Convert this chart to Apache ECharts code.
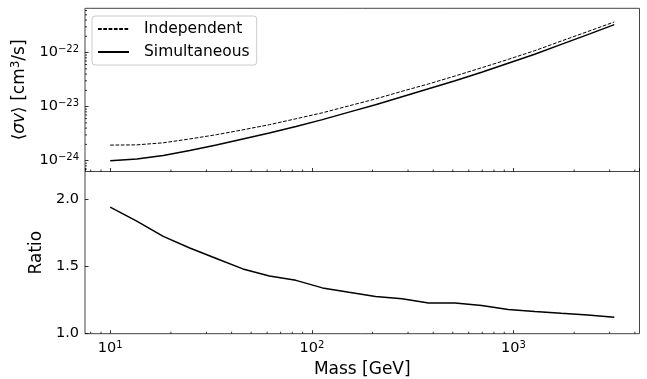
<!DOCTYPE html>
<html>
<head>
<meta charset="utf-8">
<script src="https://cdn.jsdelivr.net/npm/echarts@6/dist/echarts.min.js"></script>
<style>
  html, body { margin: 0; padding: 0; background: #fff; }
  #chart { width: 647px; height: 379px; }
</style>
</head>
<body>
<div id="chart"></div>
<script>
// Dark-matter mass grid (GeV), log-spaced from 10 to ~3162
const mass = [10, 13.54, 18.33, 24.81, 33.60, 45.49, 61.58, 83.38, 112.88, 152.83,
              206.91, 280.13, 379.27, 513.48, 695.19, 941.21, 1274.3, 1725.3, 2335.7, 3162.3];

// Upper limits on <sigma v> (cm^3/s)
const simultaneous = [1.00e-24, 1.07e-24, 1.24e-24, 1.54e-24, 1.94e-24, 2.51e-24, 3.24e-24, 4.27e-24,
                      5.74e-24, 7.91e-24, 1.087e-23, 1.527e-23, 2.14e-23, 3.01e-23, 4.33e-23,
                      6.34e-23, 9.30e-23, 1.42e-22, 2.15e-22, 3.29e-22];
const independent  = [1.94e-24, 1.96e-24, 2.14e-24, 2.52e-24, 3.02e-24, 3.72e-24, 4.63e-24, 5.96e-24,
                      7.69e-24, 1.034e-23, 1.387e-23, 1.924e-23, 2.63e-23, 3.69e-23, 5.24e-23,
                      7.48e-23, 1.083e-22, 1.634e-22, 2.45e-22, 3.69e-22];

// Independent / Simultaneous
const ratio = [1.940, 1.835, 1.722, 1.636, 1.558, 1.481, 1.429, 1.396, 1.340, 1.307,
               1.276, 1.260, 1.228, 1.227, 1.210, 1.180, 1.165, 1.151, 1.138, 1.122];

// Tick values
const ratioTicks = [1.0, 1.5, 2.0];
const massMinorTicks = [8, 9, 20, 30, 40, 50, 60, 70, 80, 90, 200, 300, 400, 500, 600, 700, 800, 900,
                        2000, 3000, 4000];
const sigmaMinorTicks = [7e-25, 8e-25, 9e-25,
                         2e-24, 3e-24, 4e-24, 5e-24, 6e-24, 7e-24, 8e-24, 9e-24,
                         2e-23, 3e-23, 4e-23, 5e-23, 6e-23, 7e-23, 8e-23, 9e-23,
                         2e-22, 3e-22, 4e-22, 5e-22, 6e-22];

const FONT = 'DejaVu Sans';
const FRAME = '#444';

const chart = echarts.init(document.getElementById('chart'), null, { renderer: 'canvas' });

function powLabel(v) {
  const e = Math.round(Math.log10(v));
  return '10{s|' + String(e).replace('-', '\u2212') + '}';
}

const supRich = {
  s: { fontSize: 10, fontFamily: FONT, color: '#000', verticalAlign: 'top', lineHeight: 10 }
};

// Short inward minor ticks along the bottom edge of a grid
function minorXTick(params, api) {
  const cs = params.coordSys;
  const x = api.coord([api.value(0), api.value(1)])[0];
  const yb = cs.y + cs.height;
  return { type: 'line', shape: { x1: x, y1: yb, x2: x, y2: yb - 2 },
           style: { stroke: '#000', lineWidth: 0.8 } };
}
// Short inward minor ticks along the left edge of a grid
function minorYTick(params, api) {
  const cs = params.coordSys;
  const y = api.coord([api.value(0), api.value(1)])[1];
  return { type: 'line', shape: { x1: cs.x, y1: y, x2: cs.x + 2, y2: y },
           style: { stroke: '#000', lineWidth: 0.8 } };
}

const xBase = {
  type: 'log', logBase: 10, min: 7.499, max: 4217,
  axisLine: { show: false },
  splitLine: { show: false },
  minorTick: { show: false },
  axisTick: { show: true, inside: true, length: 3.5, lineStyle: { color: '#000', width: 0.8 } }
};

const option = {
  animation: false,
  backgroundColor: '#fff',
  grid: [
    { left: 85, top: 8.3, width: 554.5, height: 163.2, show: true,
      borderColor: FRAME, borderWidth: 1, backgroundColor: 'transparent' },
    { left: 85, top: 171.5, width: 554.5, height: 162.2, show: true,
      borderColor: FRAME, borderWidth: 1, backgroundColor: 'transparent' }
  ],
  legend: {
    data: ['Independent', 'Simultaneous'],
    orient: 'vertical',
    left: 92, top: 16,
    padding: [5, 7, 5, 5],
    itemWidth: 31, itemHeight: 16, itemGap: 7,
    backgroundColor: 'rgba(255,255,255,0.8)',
    borderColor: '#cccccc', borderWidth: 1, borderRadius: 3,
    itemStyle: { color: 'transparent', borderWidth: 0, opacity: 0 },
    textStyle: { fontFamily: FONT, fontSize: 15.5, color: '#000', lineHeight: 16, padding: [0, 0, 0, 10] }
  },
  xAxis: [
    Object.assign({}, xBase, { gridIndex: 0, axisLabel: { show: false } }),
    Object.assign({}, xBase, {
      gridIndex: 1,
      name: 'Mass [GeV]', nameLocation: 'middle', nameGap: 27,
      nameTextStyle: { fontFamily: FONT, fontSize: 17, color: '#000' },
      axisLabel: {
        show: true, margin: 7, showMinLabel: false, showMaxLabel: false,
        fontFamily: FONT, fontSize: 14.5, color: '#000', lineHeight: 16,
        formatter: powLabel, rich: supRich
      }
    })
  ],
  yAxis: [
    {
      type: 'log', logBase: 10, gridIndex: 0, min: 6.3e-25, max: 6.6e-22,
      name: '{n|\u27e8}{i|\u03c3v}{n|\u27e9 [cm}{s|3}{n|/s]}',
      nameLocation: 'middle', nameGap: 55,
      nameTextStyle: {
        rich: {
          n: { fontFamily: FONT, fontSize: 17, color: '#000', lineHeight: 20 },
          i: { fontFamily: FONT, fontSize: 17, fontStyle: 'italic', color: '#000', lineHeight: 20 },
          s: { fontFamily: FONT, fontSize: 12, color: '#000', verticalAlign: 'top', lineHeight: 12 }
        }
      },
      axisLine: { show: false }, splitLine: { show: false }, minorTick: { show: false },
      axisTick: { show: true, inside: true, length: 3.5, lineStyle: { color: '#000', width: 0.8 } },
      axisLabel: {
        margin: 6, showMinLabel: false, showMaxLabel: false,
        fontFamily: FONT, fontSize: 14.5, color: '#000', lineHeight: 16,
        formatter: powLabel, rich: supRich
      }
    },
    {
      type: 'value', gridIndex: 1, min: 1.0, max: 2.204, interval: 0.5,
      name: 'Ratio', nameLocation: 'middle', nameGap: 26,
      nameTextStyle: { fontFamily: FONT, fontSize: 17, color: '#000' },
      axisLine: { show: false }, splitLine: { show: false },
      axisTick: { show: true, inside: true, length: 3.5, lineStyle: { color: '#000', width: 0.8 } },
      axisLabel: {
        margin: 6, showMaxLabel: false,
        fontFamily: FONT, fontSize: 14.5, color: '#000',
        formatter: v => (ratioTicks.some(t => Math.abs(t - v) < 1e-9) ? v.toFixed(1) : '')
      }
    }
  ],
  series: [
    {
      name: 'Independent', type: 'line', xAxisIndex: 0, yAxisIndex: 0,
      data: mass.map((m, i) => [m, independent[i]]),
      symbol: 'none', showSymbol: false,
      lineStyle: { color: '#000', width: 1, type: [3.7, 1.6] },
      itemStyle: { color: '#000' }
    },
    {
      name: 'Simultaneous', type: 'line', xAxisIndex: 0, yAxisIndex: 0,
      data: mass.map((m, i) => [m, simultaneous[i]]),
      symbol: 'none', showSymbol: false,
      lineStyle: { color: '#000', width: 1.5 },
      itemStyle: { color: '#000' }
    },
    {
      name: 'Ratio', type: 'line', xAxisIndex: 1, yAxisIndex: 1,
      data: mass.map((m, i) => [m, ratio[i]]),
      symbol: 'none', showSymbol: false,
      lineStyle: { color: '#000', width: 1.5 },
      itemStyle: { color: '#000' }
    },
    {
      type: 'custom', xAxisIndex: 0, yAxisIndex: 0, silent: true, z: 5,
      renderItem: minorXTick, data: massMinorTicks.map(v => [v, 1e-23])
    },
    {
      type: 'custom', xAxisIndex: 1, yAxisIndex: 1, silent: true, z: 5,
      renderItem: minorXTick, data: massMinorTicks.map(v => [v, 1.5])
    },
    {
      type: 'custom', xAxisIndex: 0, yAxisIndex: 0, silent: true, z: 5,
      renderItem: minorYTick, data: sigmaMinorTicks.map(v => [10, v])
    }
  ]
};

chart.setOption(option);
</script>
</body>
</html>
